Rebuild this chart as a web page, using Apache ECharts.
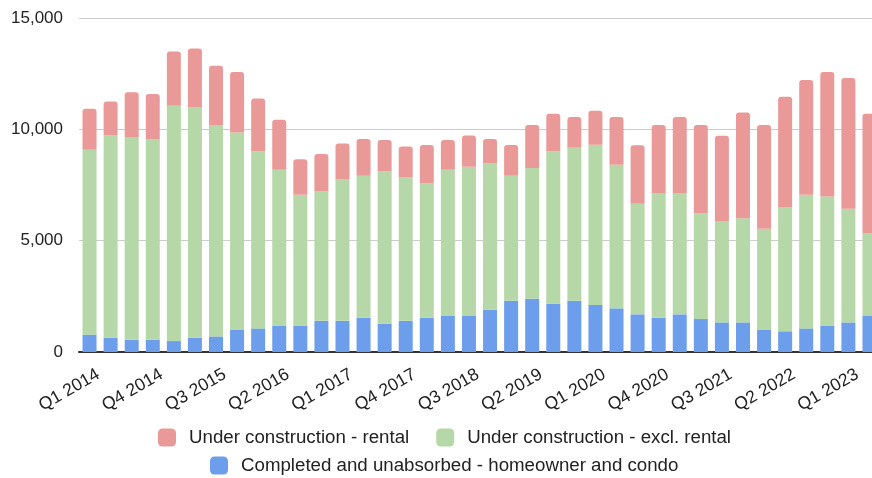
<!DOCTYPE html>
<html>
<head>
<meta charset="utf-8">
<script src="https://cdn.jsdelivr.net/npm/echarts@6/dist/echarts.min.js"></script>
<style>
  html, body { margin: 0; padding: 0; background: #fff; }
  #chart { width: 872px; height: 478px; }
</style>
</head>
<body>
<div id="chart"></div>
<script>
// quarters Q1 2014 .. Q2 2023
const quarters = [];
for (let y = 2014; y <= 2023; y++) {
  for (let q = 1; q <= 4; q++) {
    if (y === 2023 && q > 2) break;
    quarters.push('Q' + q + ' ' + y);
  }
}

const completedUnabsorbed = [780, 640, 550, 550, 490, 640, 700, 990, 1060, 1190,
  1190, 1400, 1400, 1540, 1270, 1400, 1540, 1620, 1620, 1900,
  2300, 2390, 2170, 2300, 2110, 1960, 1690, 1540, 1690, 1480,
  1330, 1330, 990, 930, 1060, 1190, 1330, 1620];

const underConstExclRental = [8300, 9080, 9110, 9020, 10570, 10340, 9500, 8870, 7960, 6990,
  5870, 5810, 6370, 6370, 6840, 6440, 6030, 6560, 6700, 6570,
  5610, 5870, 6850, 6870, 7200, 6450, 4970, 5600, 5450, 4740,
  4550, 4680, 4540, 5580, 6000, 5790, 5100, 3700];

const underConstRental = [1840, 1530, 2010, 2020, 2430, 2650, 2660, 2720, 2360, 2250,
  1600, 1680, 1590, 1660, 1410, 1390, 1730, 1340, 1400, 1100,
  1390, 1940, 1680, 1380, 1520, 2140, 2630, 3060, 3410, 3980,
  3830, 4750, 4670, 4950, 5160, 5600, 5870, 5380];

const NAME_RENTAL = 'Under construction - rental';
const NAME_EXCL = 'Under construction - excl. rental';
const NAME_DONE = 'Completed and unabsorbed - homeowner and condo';

const chart = echarts.init(document.getElementById('chart'));
const font = 'Arial, "Liberation Sans", sans-serif';

const legendCommon = {
  itemWidth: 18,
  itemHeight: 18,
  itemGap: 27,
  padding: 0,
  icon: 'roundRect',
  textStyle: { fontFamily: font, fontSize: 18.7, color: '#222', padding: [0, 0, 0, 8] }
};

chart.setOption({
  animation: false,
  backgroundColor: '#fff',
  // plot runs a bit past the right edge, like the original
  grid: { left: 79, width: 801, top: 18, bottom: 126, outerBoundsMode: 'none' },
  legend: [
    Object.assign({ data: [NAME_RENTAL, NAME_EXCL], left: 158, top: 428 }, legendCommon),
    Object.assign({ data: [NAME_DONE], left: 210, top: 456 }, legendCommon)
  ],
  xAxis: {
    type: 'category',
    data: quarters,
    axisTick: { show: false },
    axisLine: { lineStyle: { color: '#333', width: 2 } },
    axisLabel: {
      interval: 2,
      rotate: 30,
      margin: 16,
      verticalAlign: 'top',
      padding: [0, -5, 0, 0],
      fontFamily: font,
      fontSize: 17.5,
      color: '#222'
    }
  },
  yAxis: {
    type: 'value',
    min: 0,
    max: 15000,
    interval: 5000,
    axisLine: { show: false },
    axisTick: { show: false },
    splitLine: { lineStyle: { color: '#ccc', width: 1 } },
    axisLabel: {
      fontFamily: font,
      fontSize: 17,
      color: '#222',
      margin: 16,
      formatter: v => v.toLocaleString('en-US')
    }
  },
  series: [
    {
      name: NAME_DONE,
      type: 'bar',
      stack: 'total',
      barWidth: 14,
      itemStyle: { color: '#6d9eeb' },
      data: completedUnabsorbed
    },
    {
      name: NAME_EXCL,
      type: 'bar',
      stack: 'total',
      barWidth: 14,
      itemStyle: { color: '#b6d7a8' },
      data: underConstExclRental
    },
    {
      name: NAME_RENTAL,
      type: 'bar',
      stack: 'total',
      barWidth: 14,
      itemStyle: { color: '#ea9999', borderRadius: [3, 3, 0, 0] },
      data: underConstRental
    }
  ]
});
</script>
</body>
</html>
